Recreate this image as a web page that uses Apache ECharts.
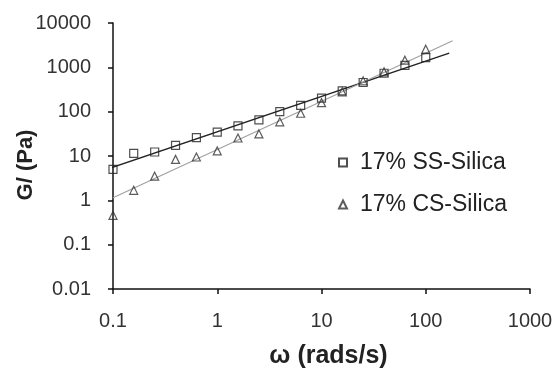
<!DOCTYPE html>
<html>
<head>
<meta charset="utf-8">
<script src="https://cdn.jsdelivr.net/npm/echarts@6/dist/echarts.min.js"></script>
<style>html,body{margin:0;padding:0;background:#fff}#c{width:556px;height:371px}</style>
</head>
<body>
<div id="c"></div>
<script>
// Frequency (rad/s)
var omega = [0.1, 0.158, 0.251, 0.398, 0.631, 1, 1.58, 2.51, 3.98, 6.31, 10, 15.8, 25.1, 39.8, 63.1, 100];
// G' (Pa)
var ssSilica = [5.0, 11.5, 12.3, 17.4, 26, 34.5, 47.6, 65, 100, 138, 203, 294, 455, 735, 1110, 1660];
var csSilica = [0.46, 1.68, 3.5, 8.4, 9.5, 13, 25.5, 31.5, 59, 92, 160, 280, 493, 790, 1450, 2570];
// Power-law trendline end points
var ssTrend = [[0.085, 4.9], [168, 2090]];
var csTrend = [[0.1, 1.15], [181, 3960]];
var xTicks = [0.1, 1, 10, 100, 1000];
var yTicks = [0.01, 0.1, 1, 10, 100, 1000, 10000];

var seriesNames = ['17% SS-Silica', '17% CS-Silica'];

function pairs(xs, ys) { return xs.map(function (x, i) { return [x, ys[i]]; }); }
function fmt(v) { return String(parseFloat(Number(v).toPrecision(3))); }

var font = '"Liberation Sans", Arial, sans-serif';
var chart = echarts.init(document.getElementById('c'), null, { renderer: 'canvas' });
chart.setOption({
  animation: false,
  backgroundColor: '#fff',
  grid: { left: 113, right: 26, top: 23, bottom: 82, containLabel: false, outerBoundsMode: 'none' },
  legend: {
    data: seriesNames,
    orient: 'vertical',
    left: 333,
    top: 146,
    itemWidth: 8,
    itemHeight: 8,
    itemGap: 19,
    textStyle: { fontSize: 23, color: '#222', fontFamily: font, padding: [0, 0, 0, 8] }
  },
  xAxis: {
    type: 'log', logBase: 10, min: xTicks[0], max: xTicks[xTicks.length - 1],
    name: 'ω (rads/s)', nameLocation: 'middle', nameGap: 55, nameMoveOverlap: false,
    nameTextStyle: { fontSize: 25, fontWeight: 'bold', color: '#222', fontFamily: font, padding: [0, 0, 0, 14] },
    axisLine: { lineStyle: { color: '#111', width: 1.5 } },
    axisTick: { show: true, inside: false, length: 5, lineStyle: { color: '#111', width: 1.5 } },
    minorTick: { show: false },
    splitLine: { show: false },
    axisLabel: { fontSize: 20, color: '#333', fontFamily: font, margin: 22, formatter: fmt, showMinLabel: true, showMaxLabel: true }
  },
  yAxis: {
    type: 'log', logBase: 10, min: yTicks[0], max: yTicks[yTicks.length - 1],
    name: 'G/ (Pa)', nameLocation: 'middle', nameGap: 76, nameMoveOverlap: false,
    nameTextStyle: { fontSize: 22, fontWeight: 'bold', color: '#222', fontFamily: font, padding: [0, 18, 0, 0] },
    axisLine: { show: true, lineStyle: { color: '#111', width: 1.5 } },
    axisTick: { show: true, inside: false, length: 5, lineStyle: { color: '#111', width: 1.5 } },
    splitLine: { show: false },
    axisLabel: { fontSize: 20, color: '#333', fontFamily: font, margin: 22, formatter: fmt, showMinLabel: true, showMaxLabel: true }
  },
  series: [
    {
      name: 'SS trend', type: 'line', data: ssTrend, symbol: 'none', clip: false,
      lineStyle: { color: '#222', width: 1.5 }, silent: true, z: 2
    },
    {
      name: 'CS trend', type: 'line', data: csTrend, symbol: 'none', clip: false,
      lineStyle: { color: '#a0a0a0', width: 1.1 }, silent: true, z: 2
    },
    {
      name: seriesNames[0], type: 'scatter', data: pairs(omega, ssSilica),
      symbol: 'rect', symbolSize: 8, clip: false,
      itemStyle: { color: 'rgba(255,255,255,0)', borderColor: '#222', borderWidth: 1.2 }, z: 3
    },
    {
      name: seriesNames[1], type: 'scatter', data: pairs(omega, csSilica),
      symbol: 'triangle', symbolSize: 8, clip: false,
      itemStyle: { color: 'rgba(255,255,255,0)', borderColor: '#333', borderWidth: 1.2 }, z: 3
    }
  ]
});
</script>
</body>
</html>
